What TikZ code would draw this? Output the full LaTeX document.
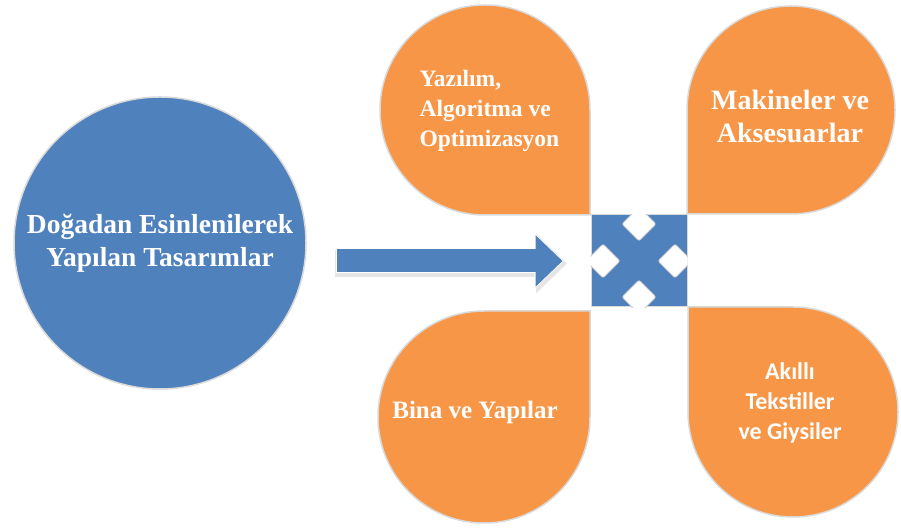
\documentclass[tikz,border=0pt]{standalone}
\usepackage{fontspec}
\setmainfont{Liberation Serif}
\newfontfamily\calibri{Carlito}
\usetikzlibrary{arrows.meta}
\definecolor{blueacc}{HTML}{4F81BD}
\definecolor{orangeacc}{HTML}{F79646}
\begin{document}
\begin{tikzpicture}[x=1pt, y=1pt,
  petal/.style={fill=orangeacc, draw=gray!30, line width=1.5pt},
  lbl/.style={text=white, align=center},
  knob/.style={rectangle, rotate=45, minimum size=24pt, inner sep=0pt, fill=white, draw=gray!40, line width=0.8pt, rounded corners=2pt}]
\useasboundingbox (0,0) rectangle (901,532);
% four petals, sharp corner towards the hub
\filldraw[petal] (590,317) -- (590,422) arc[start angle=0, end angle=270, radius=105pt] -- cycle;
\filldraw[petal] (687,318) -- (791,318) arc[start angle=270, end angle=540, radius=104pt] -- cycle;
\filldraw[petal] (590,221) -- (484,221) arc[start angle=90, end angle=360, radius=106pt] -- cycle;
\filldraw[petal] (688,225) -- (688,120) arc[start angle=180, end angle=450, radius=105pt] -- cycle;
\node[lbl, anchor=west, align=left, font=\bfseries\fontsize{23.5}{30}\selectfont] (txt0) at (416,421) {Yazılım,\\Algoritma ve\\Optimizasyon};
\node[lbl, font=\bfseries\fontsize{28}{33}\selectfont] (txt1) at (790,416) {Makineler ve\\Aksesuarlar};
\node[lbl, font=\bfseries\fontsize{25}{30}\selectfont] (txt2) at (475,120) {Bina ve Yapılar};
\node[lbl, font=\calibri\bfseries\fontsize{24}{30}\selectfont] (txt3) at (790,129) {Akıllı\\Tekstiller\\ve Giysiler};
% hub with the four notches
\node[rectangle, fill=blueacc, draw=gray!30, line width=1pt, minimum width=96pt, minimum height=92pt, inner sep=0pt] (hub) at (639,271) {};
\begin{scope}
\clip (hub.south west) rectangle (hub.north east);
\node[knob] (hubn) at (639,308) {};
\node[knob] (hubs) at (639,235) {};
\node[knob] (hubw) at (603,271) {};
\node[knob] (hube) at (675,271) {};
\end{scope}
% source circle
\node[circle, fill=blueacc, draw=gray!30, line width=1.5pt, minimum size=292pt, inner sep=0pt, lbl, font=\bfseries\fontsize{27.5}{33}\selectfont] (src) at (160,289) {Doğadan Esinlenilerek\\Yapılan Tasarımlar};
% block arrow
\draw[gray!20, line width=27pt, -{Triangle[length=31pt, width=58pt]}, shorten <=27pt, shorten >=25pt, transform canvas={xshift=1.5pt, yshift=-2.5pt}] (src.east |- hub.west) -- (hub.west);
\draw[white, line width=25pt, -{Triangle[length=29pt, width=54pt]}, shorten <=29pt, shorten >=27pt] (src.east |- hub.west) -- (hub.west);
\draw[blueacc, line width=23pt, -{Triangle[length=27pt, width=50pt]}, shorten <=30pt, shorten >=28pt] (src.east |- hub.west) -- (hub.west);
\end{tikzpicture}
\end{document}
